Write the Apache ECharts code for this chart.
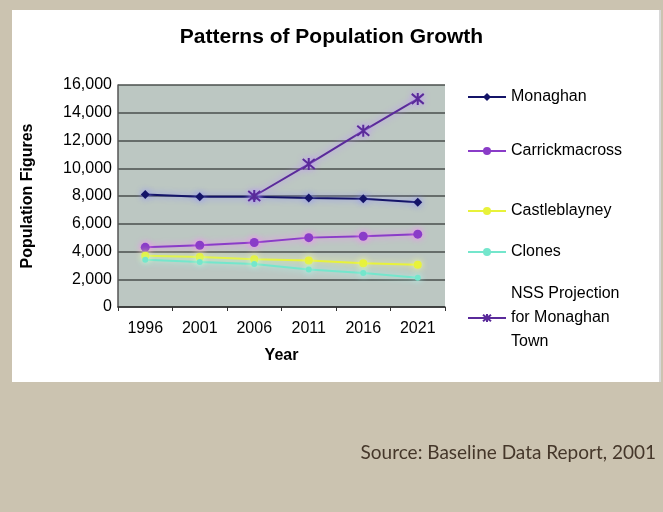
<!DOCTYPE html>
<html>
<head>
<meta charset="utf-8">
<script src="https://cdn.jsdelivr.net/npm/echarts@6/dist/echarts.min.js"></script>
<style>
  html, body { margin: 0; padding: 0; background: #cbc3b0; }
  #wrap { position: relative; width: 663px; height: 512px; }
  #panel { position: absolute; left: 12px; top: 10px; width: 647px; height: 372px; background: #fff; border-right: 2px solid #d8d8d8; }
  #chart { position: absolute; left: 0; top: 0; width: 663px; height: 512px; }
</style>
</head>
<body>
<div id="wrap">
  <div id="panel"></div>
  <div id="chart"></div>
</div>
<script>
  const years = ['1996', '2001', '2006', '2011', '2016', '2021']
  const monaghan = [8100, 7950, 7950, 7850, 7800, 7550]
  const carrickmacross = [4300, 4450, 4650, 5000, 5100, 5250]
  const castleblayney = [3700, 3600, 3450, 3350, 3150, 3050]
  const clones = [3400, 3250, 3100, 2700, 2450, 2100]
  const nss = [null, null, 8000, 10300, 12700, 15000]
  const nssName = 'NSS Projection\nfor Monaghan\nTown'

  const font = 'Arial, "Liberation Sans", sans-serif'
  const star = 'path://M0,0 L10,10 M10,0 L0,10 M5,-1 L5,11'

  function line(name, data, color, glow, symbol, size) {
    return {
      name: name,
      type: 'line',
      data: data,
      symbol: symbol,
      symbolSize: size,
      showAllSymbol: true,
      lineStyle: {color: color, width: 2, shadowColor: glow, shadowBlur: 7},
      itemStyle: {color: color, shadowColor: glow, shadowBlur: 7}
    }
  }

  function legendAt(name, top) {
    return {
      data: [name],
      orient: 'vertical',
      left: 462,
      top: top,
      itemWidth: 38,
      itemHeight: 10,
      textStyle: {fontFamily: font, fontSize: 16, color: '#000', lineHeight: 24},
      selectedMode: false
    }
  }

  const myChart = echarts.init(document.getElementById('chart'))
  myChart.setOption({
    backgroundColor: 'transparent',
    animation: false,
    title: {
      text: 'Patterns of Population Growth',
      left: 'center',
      top: 22,
      textStyle: {fontFamily: font, fontSize: 21, fontWeight: 'bold', color: '#000'}
    },
    legend: [
      legendAt('Monaghan', 80),
      legendAt('Carrickmacross', 134),
      legendAt('Castleblayney', 194),
      legendAt('Clones', 235),
      legendAt(nssName, 277)
    ],
    grid: {
      left: 118, right: 218, top: 85, bottom: 205,
      show: true, backgroundColor: '#bcc7c2', borderWidth: 0
    },
    xAxis: {
      type: 'category',
      data: years,
      boundaryGap: true,
      name: 'Year',
      nameLocation: 'middle',
      nameGap: 41,
      nameTextStyle: {fontFamily: font, fontSize: 16, fontWeight: 'bold', color: '#000'},
      axisLine: {lineStyle: {color: '#333', width: 1.5}},
      axisTick: {show: true, length: 4, lineStyle: {color: '#333'}},
      axisLabel: {fontFamily: font, fontSize: 16, color: '#000', margin: 14}
    },
    yAxis: {
      type: 'value',
      min: 0,
      max: 16000,
      interval: 2000,
      name: 'Population Figures',
      nameLocation: 'middle',
      nameGap: 82,
      nameRotate: 90,
      nameTextStyle: {fontFamily: font, fontSize: 16, fontWeight: 'bold', color: '#000'},
      axisLine: {show: true, lineStyle: {color: '#555', width: 1.5}},
      axisTick: {show: false},
      axisLabel: {
        fontFamily: font, fontSize: 16, color: '#000', margin: 6,
        formatter: v => v.toLocaleString('en-US')
      },
      splitLine: {lineStyle: {color: '#4a4f4d', width: 1.5}}
    },
    series: [
      line('Monaghan', monaghan, '#141468', '#8c8cff', 'diamond', 9),
      line('Carrickmacross', carrickmacross, '#8a3cc8', '#ff80ff', 'circle', 9),
      line('Castleblayney', castleblayney, '#e8f23a', '#f4ff90', 'circle', 8),
      line('Clones', clones, '#74e6cc', '#a8fff0', 'circle', 6),
      {
        name: nssName,
        type: 'line',
        data: nss,
        symbol: star,
        symbolSize: 12,
        lineStyle: {color: '#5a2a9a', width: 2, shadowColor: '#c090ff', shadowBlur: 7},
        itemStyle: {color: 'none', borderColor: '#5a2a9a', borderWidth: 2, shadowColor: '#c090ff', shadowBlur: 7}
      }
    ],
    graphic: [{
      type: 'text',
      right: 7,
      top: 443,
      style: {
        text: 'Source: Baseline Data Report, 2001',
        font: '19px Lato, sans-serif',
        fill: '#45372a'
      }
    }]
  })
</script>
</body>
</html>
